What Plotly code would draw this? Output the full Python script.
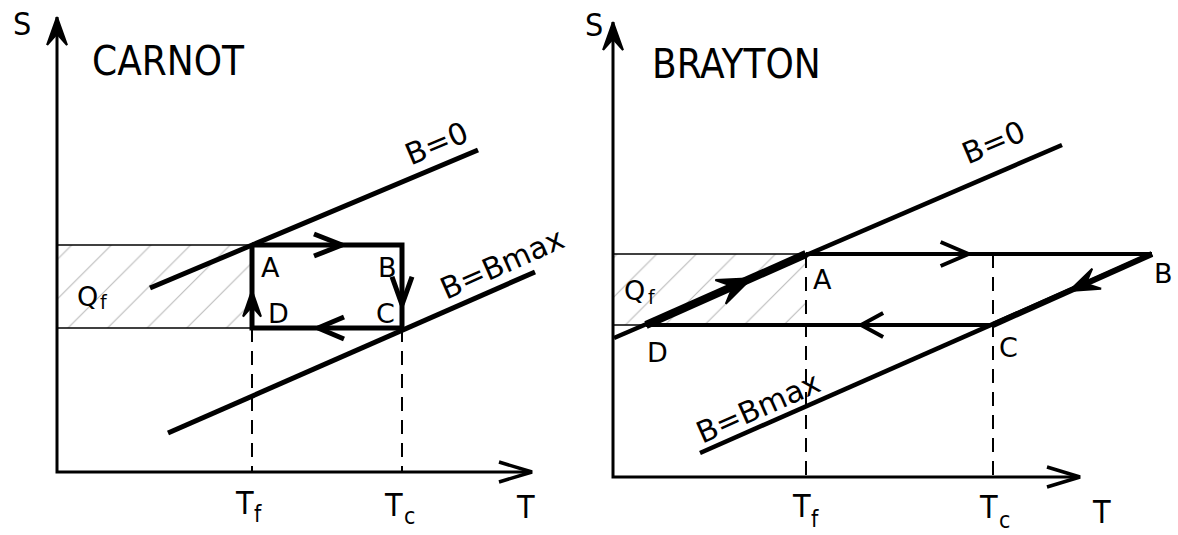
import math
import plotly.graph_objects as go

W, H = 1178, 535

# ---- Carnot cycle (T to the right, S upward, diagram units) ----
carnot_origin = (57, 63)
carnot_T_end = 532
carnot_S_end = 518
carnot_Tf, carnot_Tc = 252, 402
carnot_S_high, carnot_S_low = 290, 207
carnot_B0_T, carnot_B0_S = [150, 478], [247, 385]
carnot_Bmax_T, carnot_Bmax_S = [168, 535], [102, 263]

# ---- Brayton cycle ----
brayton_origin = (613, 58)
brayton_T_end = 1080
brayton_S_end = 513
brayton_Tf, brayton_Tc = 806, 993
brayton_TB, brayton_TD = 1152, 646
brayton_S_high, brayton_S_low = 281, 210
brayton_B0_T, brayton_B0_S = [614, 1062], [197, 390]
brayton_Bmax_T, brayton_Bmax_S = [700, 1152], [82, 281]

INK = "black"
NARROW = "DejaVu Sans Condensed, Liberation Sans Narrow, sans-serif"
PLAIN = "DejaVu Sans, sans-serif"

fig = go.Figure()


def line(xs, ys, width=4, dash="solid", color=INK):
    fig.add_trace(go.Scatter(x=xs, y=ys, mode="lines", hoverinfo="skip",
                             line=dict(color=color, width=width, dash=dash)))


def unit(p0, p1):
    dx, dy = p1[0] - p0[0], p1[1] - p0[1]
    n = math.hypot(dx, dy)
    return dx / n, dy / n


def arrow_head(p0, p1, frac, length=26, half=11, width=4, filled=False):
    """Arrow head on segment p0->p1, tip at the given fraction of its length."""
    ux, uy = unit(p0, p1)
    tx = p0[0] + frac * (p1[0] - p0[0])
    ty = p0[1] + frac * (p1[1] - p0[1])
    nx, ny = -uy, ux
    bx, by = tx - length * ux, ty - length * uy
    xs = [bx + half * nx, tx, bx - half * nx]
    ys = [by + half * ny, ty, by - half * ny]
    if filled:
        mx, my = tx - 0.6 * length * ux, ty - 0.6 * length * uy
        fig.add_trace(go.Scatter(x=xs + [mx, xs[0]], y=ys + [my, ys[0]],
                                 mode="lines", fill="toself", fillcolor=INK,
                                 hoverinfo="skip",
                                 line=dict(color=INK, width=2)))
    else:
        line(xs, ys, width=width)


def hatch(t0, t1, s0, s1):
    fig.add_trace(go.Scatter(
        x=[t0, t1, t1, t0, t0], y=[s0, s0, s1, s1, s0], mode="lines",
        fill="toself", hoverinfo="skip", line=dict(width=0),
        fillcolor="rgba(0,0,0,0)",
        fillpattern=dict(shape="/", size=28, solidity=0.04,
                         fgcolor="#777", bgcolor="rgba(255,255,255,0)")))


def axes(origin, t_end, s_end):
    ox, oy = origin
    line([ox, ox, t_end], [s_end, oy, oy], width=3)
    arrow_head((ox, oy), (ox, s_end), 1.0, length=28, half=10, width=3, filled=True)
    arrow_head((ox, oy), (t_end, oy), 1.0, length=33, half=10, width=3.5)


# ===== Carnot =====
ox, oy = carnot_origin
hatch(ox, carnot_Tf, carnot_S_low, carnot_S_high)
line([ox, carnot_Tf], [carnot_S_high] * 2, width=1.5)
line([ox, carnot_Tf], [carnot_S_low] * 2, width=1.5)
line([carnot_Tf, carnot_Tf], [carnot_S_low, oy], width=2, dash="14px,9px")
line([carnot_Tc, carnot_Tc], [carnot_S_low, oy], width=2, dash="14px,9px")
line(carnot_B0_T, carnot_B0_S, width=5)
line(carnot_Bmax_T, carnot_Bmax_S, width=5)

cA = (carnot_Tf, carnot_S_high)
cB = (carnot_Tc, carnot_S_high)
cC = (carnot_Tc, carnot_S_low)
cD = (carnot_Tf, carnot_S_low)
line([cA[0], cB[0], cC[0], cD[0], cA[0]], [cA[1], cB[1], cC[1], cD[1], cA[1]], width=5)
arrow_head(cA, cB, 0.60, length=28, half=11, width=5)
arrow_head(cB, cC, 0.72, length=28, half=10, width=5)
arrow_head(cC, cD, 0.56, length=26, half=11, width=5)
arrow_head(cD, cA, 0.45, length=26, half=9, filled=True)
axes(carnot_origin, carnot_T_end, carnot_S_end)

# ===== Brayton =====
ox, oy = brayton_origin
hatch(ox, brayton_Tf, brayton_S_low, brayton_S_high)
line([ox, brayton_Tf], [brayton_S_high] * 2, width=1.5)
line([ox, brayton_TD], [brayton_S_low] * 2, width=1.5)
line([brayton_Tf, brayton_Tf], [brayton_S_high, oy], width=2, dash="14px,9px")
line([brayton_Tc, brayton_Tc], [brayton_S_high, oy], width=2, dash="14px,9px")
line(brayton_B0_T, brayton_B0_S, width=4.5)
line(brayton_Bmax_T, brayton_Bmax_S, width=4.5)

bA = (brayton_Tf, brayton_S_high)
bB = (brayton_TB, brayton_S_high)
bC = (brayton_Tc, brayton_S_low)
bD = (brayton_TD, brayton_S_low)
line([bA[0], bB[0]], [bA[1], bB[1]], width=4)
line([bB[0], bC[0]], [bB[1], bC[1]], width=6)
line([bC[0], bD[0]], [bC[1], bD[1]], width=4)
line([bD[0], bA[0]], [bD[1], bA[1]], width=8)
arrow_head(bA, bB, 0.47, length=28, half=12, width=4)
arrow_head(bB, bC, 0.52, length=30, half=11, filled=True)
arrow_head(bC, bD, 0.38, length=22, half=12, width=4)
arrow_head(bD, bA, 0.66, length=34, half=13, filled=True)
axes(brayton_origin, brayton_T_end, brayton_S_end)


# ===== Labels =====
def label(x, y, text, size, family=PLAIN, angle=0):
    fig.add_annotation(x=x, y=y, xref="x", yref="y", text=text, showarrow=False,
                       textangle=angle, xanchor="center", yanchor="middle",
                       borderpad=0,
                       font=dict(family=family, size=size, color=INK))


def sub_label(x, y, main, sub, size, family=PLAIN, dx=11, dy=11, ratio=0.72):
    """Symbol with a subscript drawn as two separate pieces of text."""
    label(x, y, main, size, family)
    label(x + dx, y - dy, sub, round(size * ratio), family)


label(22, 511, "S", 32, NARROW)
label(168, 474, "CARNOT", 40, NARROW)
label(436, 392, "B=0", 30, angle=-23)
label(502, 272, "B=Bmax", 30, angle=-24)
label(270, 268, "A", 27)
label(387, 268, "B", 27)
label(385, 222, "C", 27)
label(278, 222, "D", 27)
sub_label(87, 239, "Q", "f", 27, dx=17, dy=6)
sub_label(244, 32, "T", "f", 32, NARROW, dx=14, dy=11)
sub_label(393, 30, "T", "c", 32, NARROW, dx=16, dy=11)
label(525, 28, "T", 32, NARROW)

label(594, 510, "S", 32, NARROW)
label(736, 471, "BRAYTON", 40, NARROW)
label(993, 393, "B=0", 30, angle=-23)
label(758, 128, "B=Bmax", 30, angle=-24)
label(822, 256, "A", 27)
label(1163, 262, "B", 27)
label(1008, 188, "C", 27)
label(657, 183, "D", 27)
sub_label(634, 245, "Q", "f", 27, dx=18, dy=7)
sub_label(801, 29, "T", "f", 32, NARROW, dx=14, dy=13)
sub_label(988, 28, "T", "c", 32, NARROW, dx=16, dy=13)
label(1101, 23, "T", 32, NARROW)

fig.update_layout(
    width=W, height=H, autosize=False,
    margin=dict(l=0, r=0, t=0, b=0),
    paper_bgcolor="white", plot_bgcolor="white",
    showlegend=False,
    xaxis=dict(range=[0, W], visible=False, fixedrange=True),
    yaxis=dict(range=[0, H], visible=False, fixedrange=True),
)

fig.write_html("out.html", config={"displayModeBar": False})
